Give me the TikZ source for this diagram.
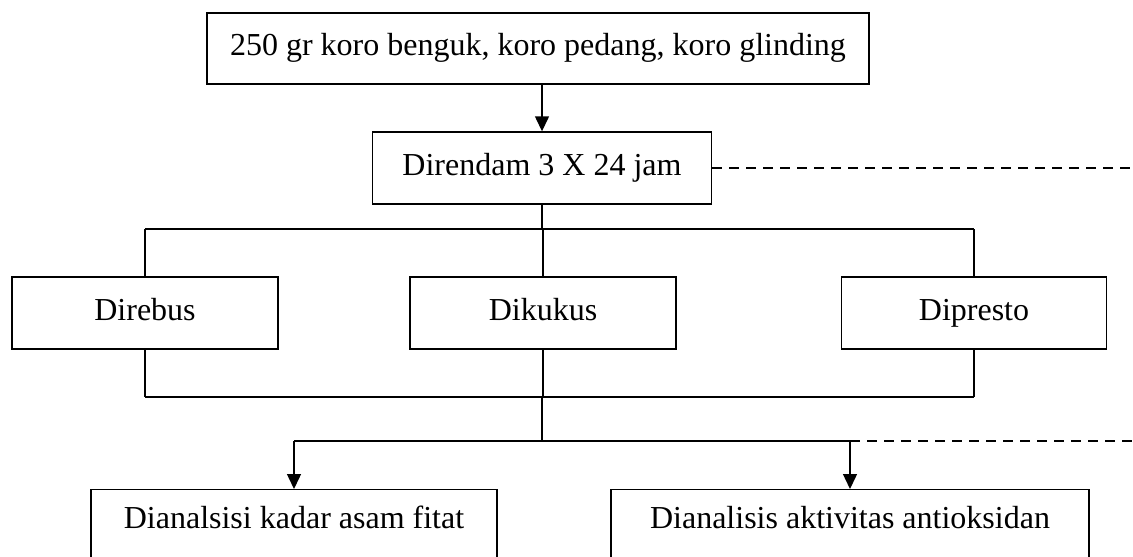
\documentclass[tikz,border=0pt]{standalone}
\usepackage{fontspec}
\setmainfont{Liberation Serif}
\usetikzlibrary{arrows.meta}
\begin{document}
\begin{tikzpicture}[x=0.5pt,y=-0.5pt,line width=0.7pt,
  box/.style={draw,inner sep=0pt,minimum height=36pt,text height=11pt,text depth=3.5pt,font=\fontsize{16}{19}\selectfont},
  lowbox/.style={draw,anchor=north,inner xsep=0pt,inner ysep=7.5pt,text height=12pt,text depth=40pt,font=\fontsize{16}{19}\selectfont},
  arr/.style={-{Triangle[length=7.5pt,width=7pt]}},
  putus/.style={line width=1pt,dash pattern=on 5pt off 3.5pt}]
\useasboundingbox (0,0) rectangle (1133,556);
\clip (0,0) rectangle (1133,556);
% Bahan dan perendaman
\node[box,line width=0.9pt,minimum width=331pt,minimum height=35.5pt] (bahan) at (538,48.5) {250 gr koro benguk, koro pedang, koro glinding};
\node[box,minimum width=169.5pt] (rendam) at (542,168) {Direndam 3 X 24 jam};
\draw[arr] (bahan.south -| rendam.north) -- (rendam.north);
\coordinate (ujung1) at (1140,168);
\draw[putus] (rendam.east) -- (ujung1);

% Tiga cara pemasakan
\node[box,minimum width=133pt] (rebus) at (145,313) {Direbus};
\node[box,minimum width=133pt] (kukus) at (543,313) {Dikukus};
\node[box,minimum width=132.5pt] (presto) at (974,313) {Dipresto};
\coordinate (atas) at (542,229);
\coordinate (bawah) at (542,397);
\draw (rendam.south) -- (atas);
\draw (rebus.north |- atas) -- (presto.north |- atas);
\draw (rebus.south |- bawah) -- (presto.south |- bawah);
\foreach \n in {rebus,kukus,presto} {
  \draw (\n.north |- atas) -- (\n.north);
  \draw (\n.south) -- (\n.south |- bawah);
}

% Analisis
\node[lowbox,minimum width=203pt] (fitat) at (294,489) {Dianalsisi kadar asam fitat};
\node[lowbox,minimum width=239pt] (antiok) at (850,489) {Dianalisis aktivitas antioksidan};
\coordinate (cabang) at (542,441);
\coordinate (ujung2) at (1140,441);
\draw (bawah) -- (cabang);
\draw (fitat.north |- cabang) -- (antiok.north |- cabang);
\foreach \n in {fitat,antiok} {
  \draw[arr] (\n.north |- cabang) -- (\n.north);
}
\draw[putus] (antiok.north |- cabang) -- (ujung2);
\end{tikzpicture}
\end{document}
